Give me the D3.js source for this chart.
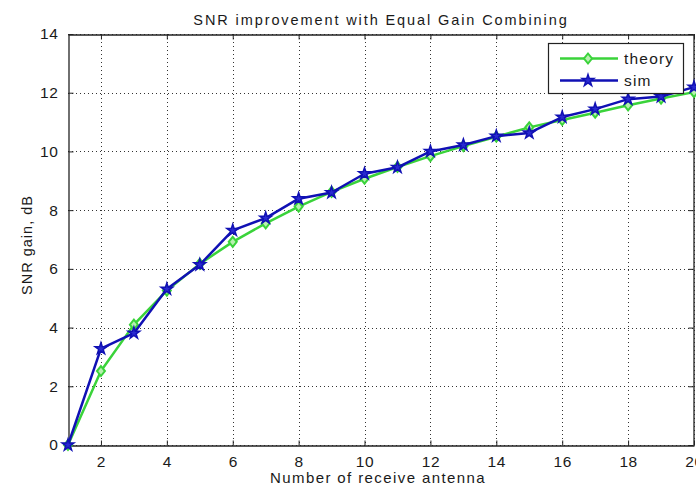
<!DOCTYPE html>
<html>
<head>
<meta charset="utf-8">
<script src="https://cdn.jsdelivr.net/npm/d3@7"></script>
<style>
  html, body { margin: 0; padding: 0; background: #fff; }
  svg { display: block; }
  text { font-family: "Liberation Sans", Arial, sans-serif; fill: #1a1a1a; }
</style>
</head>
<body>
<svg id="chart" width="696" height="486"></svg>
<script>
// Number of receive antennas
const antennas = [1, 2, 3, 4, 5, 6, 7, 8, 9, 10, 11, 12, 13, 14, 15, 16, 17, 18, 19, 20];
// SNR gain in dB, theoretical curve
const theoryGain = [0, 2.52, 4.1, 5.26, 6.17, 6.92, 7.55, 8.12, 8.62, 9.07, 9.47, 9.84, 10.18, 10.5, 10.82, 11.07, 11.32, 11.57, 11.8, 12.02];
// SNR gain in dB, simulated
const simGain = [0, 3.28, 3.81, 5.31, 6.14, 7.31, 7.73, 8.39, 8.6, 9.24, 9.46, 10.0, 10.22, 10.52, 10.63, 11.17, 11.44, 11.78, 11.87, 12.19];

const xTicks = [2, 4, 6, 8, 10, 12, 14, 16, 18, 20];
const yTicks = [0, 2, 4, 6, 8, 10, 12, 14];

const titleText = "SNR improvement with Equal Gain Combining";
const xLabelText = "Number of receive antenna";
const yLabelText = "SNR gain, dB";
const seriesNames = ["theory", "sim"];

const green = "#3ad33a";
const blue = "#1010b4";

const svg = d3.select("#chart");
const plot = { left: 68, right: 694, top: 34, bottom: 445 };

const x = d3.scaleLinear().domain([1, 20]).range([plot.left, plot.right]);
const y = d3.scaleLinear().domain([0, 14]).range([plot.bottom, plot.top]);

// dotted grid
const grid = svg.append("g");
grid.selectAll("line.gx").data(xTicks).join("line")
  .attr("x1", d => Math.round(x(d)) + 0.5).attr("x2", d => Math.round(x(d)) + 0.5)
  .attr("y1", plot.top).attr("y2", plot.bottom)
  .attr("stroke", "#333").attr("stroke-width", 1).attr("stroke-dasharray", "1,3");
grid.selectAll("line.gy").data(yTicks).join("line")
  .attr("x1", plot.left).attr("x2", plot.right)
  .attr("y1", d => Math.round(y(d)) + 0.5).attr("y2", d => Math.round(y(d)) + 0.5)
  .attr("stroke", "#333").attr("stroke-width", 1).attr("stroke-dasharray", "1,3");

// axes (inward ticks, box style)
const tickLen = 5;
const axBottom = svg.append("g").attr("transform", `translate(0,${plot.bottom + 0.5})`)
  .call(d3.axisBottom(x).tickValues(xTicks).tickSizeInner(-tickLen).tickSizeOuter(0).tickPadding(10));
const axTop = svg.append("g").attr("transform", `translate(0,${plot.top + 0.5})`)
  .call(d3.axisTop(x).tickValues(xTicks).tickSizeInner(-tickLen).tickSizeOuter(0).tickFormat(""));
const axLeft = svg.append("g").attr("transform", `translate(${plot.left + 0.5},0)`)
  .call(d3.axisLeft(y).tickValues(yTicks).tickSizeInner(-tickLen).tickSizeOuter(0).tickPadding(10));
const axRight = svg.append("g").attr("transform", `translate(${plot.right - 0.5},0)`)
  .call(d3.axisRight(y).tickValues(yTicks).tickSizeInner(-tickLen).tickSizeOuter(0).tickFormat(""));

[axBottom, axTop, axLeft, axRight].forEach(g => {
  g.select(".domain").attr("stroke", "#222").attr("stroke-width", 1.3);
  g.selectAll(".tick line").attr("stroke", "#222");
  g.selectAll(".tick text")
    .style("font-family", '"Liberation Sans", Arial, sans-serif')
    .style("font-size", "15.5px").style("letter-spacing", "0.6px").attr("fill", "#1a1a1a");
});

// series
const line = d3.line().x((d, i) => x(antennas[i])).y(d => y(d));
const diamond = (s) => `M0,${-s}L${s * 0.8},0L0,${s}L${-s * 0.8},0Z`;
const star = d3.symbol().type(d3.symbolStar).size(42);

const gTheory = svg.append("g");
gTheory.append("path").datum(theoryGain).attr("d", line)
  .attr("fill", "none").attr("stroke", green).attr("stroke-width", 2.5).attr("stroke-linejoin", "round");
gTheory.selectAll("path.m").data(theoryGain).join("path").attr("class", "m")
  .attr("transform", (d, i) => `translate(${x(antennas[i])},${y(d)})`)
  .attr("d", diamond(5)).attr("fill", "#b8f0b0").attr("stroke", green).attr("stroke-width", 2);

const gSim = svg.append("g");
gSim.append("path").datum(simGain).attr("d", line)
  .attr("fill", "none").attr("stroke", blue).attr("stroke-width", 2.5).attr("stroke-linejoin", "round");
gSim.selectAll("path.m").data(simGain).join("path").attr("class", "m")
  .attr("transform", (d, i) => `translate(${x(antennas[i])},${y(d)})`)
  .attr("d", star).attr("fill", "#2a2ad0").attr("stroke", blue).attr("stroke-width", 1.5);

// title and axis labels
svg.append("text").attr("x", 381).attr("y", 24.5)
  .attr("text-anchor", "middle").style("font-size", "14.5px").style("letter-spacing", "1.9px").text(titleText);
svg.append("text").attr("x", 378).attr("y", 483)
  .attr("text-anchor", "middle").style("font-size", "15px").style("letter-spacing", "1.4px").text(xLabelText);
svg.append("text").attr("transform", "translate(32,245) rotate(-90)")
  .attr("text-anchor", "middle").style("font-size", "14.5px").style("letter-spacing", "1px").text(yLabelText);

// legend
const leg = svg.append("g");
leg.append("rect").attr("x", 548.5).attr("y", 43.5).attr("width", 135).attr("height", 50)
  .attr("fill", "#fff").attr("stroke", "#222").attr("stroke-width", 1.2);
const legY = [58.5, 80.5];
const legCol = [green, blue];
seriesNames.forEach((name, k) => {
  leg.append("line").attr("x1", 560).attr("x2", 618).attr("y1", legY[k]).attr("y2", legY[k])
    .attr("stroke", legCol[k]).attr("stroke-width", 2.5);
  if (k === 0) {
    leg.append("path").attr("transform", `translate(588,${legY[k]})`).attr("d", diamond(5))
      .attr("fill", "#b8f0b0").attr("stroke", green).attr("stroke-width", 2);
  } else {
    leg.append("path").attr("transform", `translate(588,${legY[k]})`).attr("d", star)
      .attr("fill", "#2a2ad0").attr("stroke", blue).attr("stroke-width", 1.5);
  }
  leg.append("text").attr("x", 624).attr("y", legY[k] + 5.5).style("font-size", "15.5px")
    .style("letter-spacing", "1.2px").text(name);
});
</script>
</body>
</html>
